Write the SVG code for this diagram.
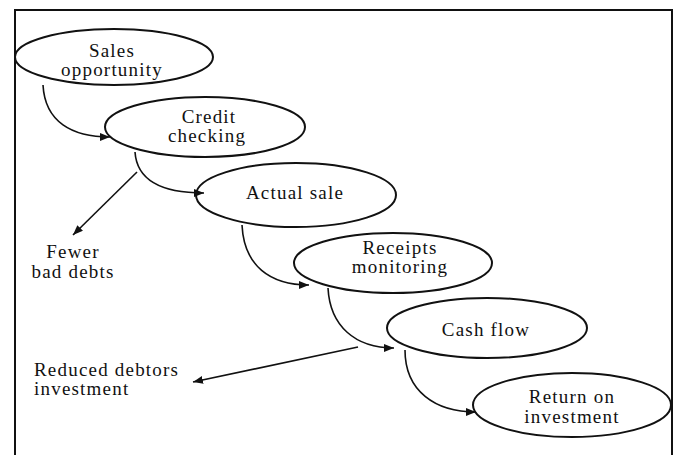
<svg xmlns="http://www.w3.org/2000/svg" width="677" height="455" viewBox="0 0 677 455">
  <defs>
    <marker id="arrow" viewBox="0 0 10 8" refX="10" refY="4" markerWidth="10" markerHeight="8" markerUnits="userSpaceOnUse" orient="auto">
      <path d="M0,0 L10,4 L0,8 z" fill="#111"/>
    </marker>
    <style>
      .frame { fill: none; stroke: #111; stroke-width: 2; }
      .node ellipse { fill: #fff; stroke: #111; stroke-width: 2; }
      .lbl { font-family: "Liberation Serif", "Times New Roman", serif; font-size: 19px; letter-spacing: 1.2px; fill: #111; }
      .mid { text-anchor: middle; }
      .conn { fill: none; stroke: #111; stroke-width: 1.6; marker-end: url(#arrow); }
    </style>
  </defs>
  <rect width="677" height="455" fill="#fff"/>

  <!-- outer frame (open at the bottom) -->
  <path class="frame" d="M15,455 L15,10 L672,10 L672,455"/>

  <!-- flow nodes -->
  <g id="sales-opportunity" class="node">
    <ellipse cx="114" cy="57" rx="99" ry="28"/>
    <text class="lbl mid" x="112" y="57">Sales</text>
    <text class="lbl mid" x="112" y="76">opportunity</text>
  </g>
  <g id="credit-checking" class="node">
    <ellipse cx="205" cy="127" rx="100" ry="30"/>
    <text class="lbl mid" x="209" y="123">Credit</text>
    <text class="lbl mid" x="207" y="142">checking</text>
  </g>
  <g id="actual-sale" class="node">
    <ellipse cx="296" cy="195" rx="100" ry="32"/>
    <text class="lbl mid" x="295" y="199">Actual sale</text>
  </g>
  <g id="receipts-monitoring" class="node">
    <ellipse cx="393" cy="263" rx="99" ry="30"/>
    <text class="lbl mid" x="400" y="254">Receipts</text>
    <text class="lbl mid" x="400" y="273">monitoring</text>
  </g>
  <g id="cash-flow" class="node">
    <ellipse cx="487" cy="328" rx="100" ry="30"/>
    <text class="lbl mid" x="486" y="336">Cash flow</text>
  </g>
  <g id="return-on-investment" class="node">
    <ellipse cx="572" cy="405" rx="99" ry="32"/>
    <text class="lbl mid" x="572" y="403">Return on</text>
    <text class="lbl mid" x="572" y="423">investment</text>
  </g>

  <!-- side outcomes -->
  <g id="fewer-bad-debts">
    <text class="lbl mid" x="73" y="258">Fewer</text>
    <text class="lbl mid" x="73" y="278">bad debts</text>
  </g>
  <g id="reduced-debtors-investment">
    <text class="lbl" x="34" y="376">Reduced debtors</text>
    <text class="lbl" x="34" y="395">investment</text>
  </g>

  <!-- connectors -->
  <g id="connectors">
    <path class="conn" d="M43,85 C45,122 72,137 110,137"/>
    <path class="conn" d="M135,152 C137,182 165,193 204,193"/>
    <path class="conn" d="M242,225 C244,266 270,285 309,285"/>
    <path class="conn" d="M328,288 C330,326 355,348 394,348"/>
    <path class="conn" d="M405,350 C405,391 435,412 476,412"/>
    <path class="conn" d="M137,172 L73,235"/>
    <path class="conn" d="M358,347 L193,382"/>
  </g>
</svg>
